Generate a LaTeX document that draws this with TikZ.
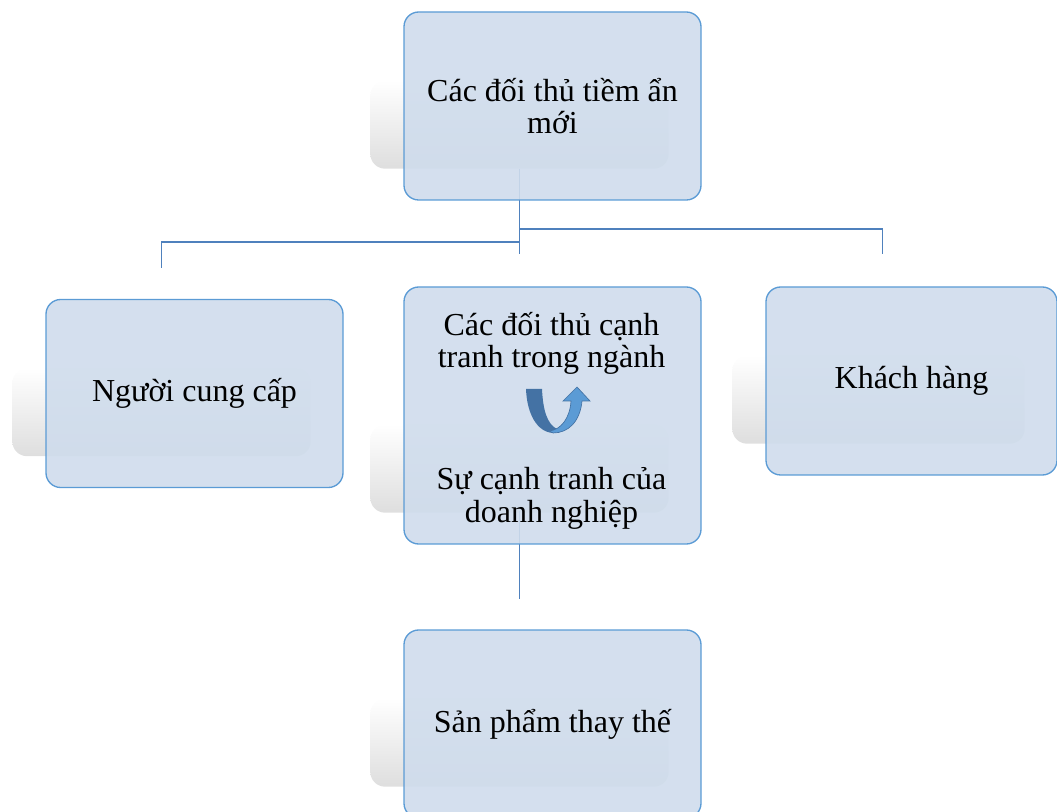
\documentclass[tikz,border=0pt]{standalone}
\usepackage{fontspec}
\setmainfont{Liberation Serif}
\usetikzlibrary{positioning,calc,backgrounds}
\definecolor{boxfill}{RGB}{207,220,236}
\definecolor{boxline}{RGB}{91,155,213}
\definecolor{linkblue}{RGB}{79,129,189}
\definecolor{arrowdark}{RGB}{68,114,164}
\definecolor{arrowlite}{RGB}{91,155,213}
\definecolor{shadowgrey}{RGB}{222,222,222}

\begin{document}
\begin{tikzpicture}[x=0.75pt,y=-0.75pt,
  every node/.style={font=\fontsize{24}{24.5}\selectfont},
  box/.style={draw=boxline,line width=1pt,fill=boxfill,fill opacity=0.9,text opacity=1,
              rounded corners=11pt,minimum width=222.75pt,minimum height=141pt,align=center},
  label/.style={align=center,inner sep=0pt},
  shadow/.style={top color=white,bottom color=shadowgrey,rounded corners=11pt},
  link/.style={draw=linkblue,line width=1.3pt}]
\useasboundingbox (0,0) rectangle (1057,812);
\node[box] (top) at (552.5,106) {Các đối thủ tiềm ẩn\\mới};
\node[box] (lft) at (194.5,393.5) {Người cung cấp};
\node[box,minimum height=192.75pt] (mid) at (552.5,415.5) {};
\node[box,minimum width=218.25pt] (rgt) at (911.5,381) {Khách hàng};
\node[box] (bot) at (552.5,724) {Sản phẩm thay thế};
\node[label] (midtop) at ($(mid.center)+(-1,-72)$) {Các đối thủ cạnh\\tranh trong ngành};
\node[label] (midbot) at ($(mid.center)+(-1,83)$) {Sự cạnh tranh của\\doanh nghiệp};
% u-turn arrow
\fill[arrowdark] (526,389) -- (542,389) .. controls (543,410) and (547,424) .. (557,429)
  -- (553,433) .. controls (537,432) and (527,414) .. (526,389) -- cycle;
\filldraw[fill=arrowlite,draw=arrowdark,line width=0.5pt] (549,431) .. controls (561,430) and (570,418) .. (571,401)
  -- (563,401) -- (577,387) -- (590,401) -- (582,401) .. controls (580,422) and (568,433) .. (553,433) -- cycle;
\begin{scope}[on background layer]
\foreach \b in {top,lft,mid,rgt,bot}
  \shade[shadow] ($(\b.south west)+(-33,-120)$) rectangle ($(\b.south east)+(-33,-32)$);
\coordinate (hub) at ($(top.south)+(-33,-32)$);
\draw[link] (hub) -- ($(mid.north)+(-33,-32)$);
\draw[link] ($(hub)+(0,60)$) -| ($(rgt.north)+(-29,-32)$);
\draw[link] ($(hub)+(0,73)$) -| ($(lft.north)+(-33,-31)$);
\draw[link] ($(mid.south)+(-33,-34)$) -- ($(bot.north)+(-33,-30)$);
\end{scope}
\end{tikzpicture}
\end{document}
